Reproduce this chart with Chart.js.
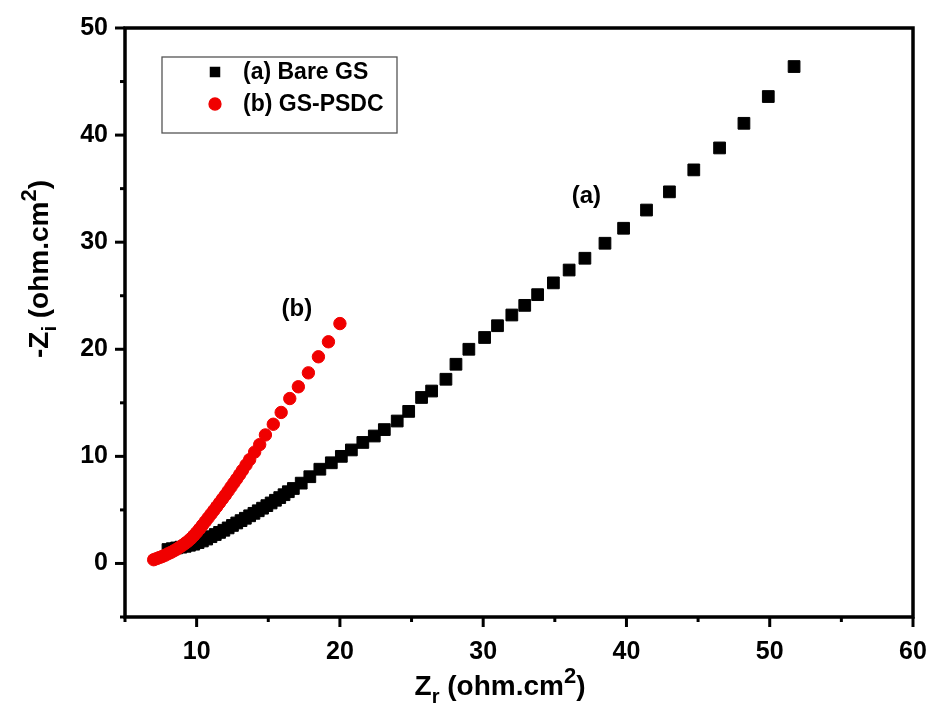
<!DOCTYPE html>
<html>
<head>
<meta charset="utf-8">
<script src="https://cdn.jsdelivr.net/npm/chart.js@4.4.1/dist/chart.umd.min.js"></script>
<style>
    html, body { margin: 0; padding: 0; background: #fff; }
    #wrap { width: 932px; height: 709px; position: relative; }
</style>
</head>
<body>
<div id="wrap"><canvas id="chart"></canvas></div>
<script>
// (a) Bare GS
const bareZr = [8.0, 8.3, 8.6, 8.9, 9.2, 9.5, 9.8, 10.1, 10.4, 10.7, 11.0, 11.3, 11.6, 11.9, 12.2, 12.5, 12.8, 13.1, 13.4, 13.7,
    14.0, 14.3, 14.6, 14.9, 15.2, 15.5, 15.8, 16.1, 16.4, 16.75, 17.3, 17.9, 18.6, 19.4, 20.1, 20.8, 21.6, 22.4, 23.1, 24.0,
    24.8, 25.7, 26.4, 27.4, 28.1, 29.0, 30.1, 31.0, 32.0, 32.9, 33.8, 34.9, 36.0, 37.1, 38.5, 39.8, 41.4, 43.0, 44.7, 46.5,
    48.2, 49.9, 51.7];
const bareZi = [1.3, 1.38, 1.45, 1.52, 1.6, 1.7, 1.8, 1.95, 2.1, 2.28, 2.5, 2.7, 2.9, 3.1, 3.32, 3.55, 3.78, 4.0, 4.22, 4.45,
    4.68, 4.92, 5.16, 5.4, 5.65, 5.9, 6.15, 6.42, 6.7, 7.0, 7.5, 8.1, 8.8, 9.4, 10.0, 10.6, 11.3, 11.9, 12.5, 13.3,
    14.2, 15.5, 16.1, 17.2, 18.6, 20.0, 21.1, 22.2, 23.2, 24.1, 25.1, 26.2, 27.4, 28.5, 29.9, 31.3, 33.0, 34.7, 36.75, 38.8,
    41.1, 43.6, 46.4];

// (b) GS-PSDC
const psdcZr = [7.0, 7.2, 7.4, 7.6, 7.8, 8.0, 8.2, 8.4, 8.6, 8.8, 9.0, 9.2, 9.4, 9.6, 9.8, 10.0, 10.2, 10.4, 10.6, 10.8,
    11.0, 11.2, 11.4, 11.6, 11.8, 12.0, 12.2, 12.4, 12.6, 12.8, 13.0, 13.2, 13.45, 13.7, 14.05, 14.4, 14.8, 15.35, 15.9, 16.5,
    17.1, 17.8, 18.5, 19.2, 20.0];
const psdcZi = [0.35, 0.45, 0.55, 0.65, 0.77, 0.9, 1.03, 1.17, 1.32, 1.5, 1.68, 1.88, 2.08, 2.32, 2.6, 2.9, 3.22, 3.56, 3.9, 4.25,
    4.6, 4.95, 5.3, 5.66, 6.02, 6.38, 6.76, 7.14, 7.52, 7.9, 8.3, 8.7, 9.2, 9.7, 10.4, 11.1, 12.0, 13.0, 14.1, 15.4,
    16.5, 17.8, 19.3, 20.7, 22.4];

const seriesNames = ['(a) Bare GS', '(b) GS-PSDC'];
const curveTags = ['(a)', '(b)'];
const tagX = [37.2, 17.0];
const tagY = [34.3, 23.7];
const xTickLabels = [10, 20, 30, 40, 50, 60];
const yTickLabels = [0, 10, 20, 30, 40, 50];

const FONT = "'Liberation Sans', Arial, sans-serif";

const toPoints = (xs, ys) => xs.map((v, i) => ({ x: v, y: ys[i] }));

// draws a string made of pieces with their own size / baseline shift (sub & superscripts)
function drawRich(ctx, parts, cx, baseline) {
    let total = 0;
    parts.forEach(p => {
        ctx.font = `bold ${p.size}px ${FONT}`;
        p.w = ctx.measureText(p.t).width;
        total += p.w;
    });
    let x = cx - total / 2;
    ctx.textAlign = 'left';
    ctx.textBaseline = 'alphabetic';
    parts.forEach(p => {
        ctx.font = `bold ${p.size}px ${FONT}`;
        ctx.fillText(p.t, x, baseline + (p.dy || 0));
        x += p.w;
    });
}

const decorPlugin = {
    id: 'decor',
    afterDatasetsDraw(chart) {
        const { ctx, scales: { x, y } } = chart;
        ctx.save();
        ctx.fillStyle = '#000';
        ctx.font = `bold 24px ${FONT}`;
        ctx.textAlign = 'center';
        ctx.textBaseline = 'middle';
        curveTags.forEach((t, i) => {
            ctx.fillText(t, x.getPixelForValue(tagX[i]), y.getPixelForValue(tagY[i]));
        });
        ctx.restore();
    },
    afterDraw(chart) {
        const { ctx, chartArea: a, scales: { x, y } } = chart;
        ctx.save();

        // frame
        ctx.strokeStyle = '#000';
        ctx.lineWidth = 3.5;
        ctx.strokeRect(a.left, a.top, a.width, a.height);

        // outward ticks, long on labelled values
        ctx.lineWidth = 3;
        x.ticks.forEach(t => {
            const px = x.getPixelForValue(t.value);
            const len = xTickLabels.includes(t.value) ? 10 : 5;
            ctx.beginPath();
            ctx.moveTo(px, a.bottom);
            ctx.lineTo(px, a.bottom + len);
            ctx.stroke();
        });
        y.ticks.forEach(t => {
            const py = y.getPixelForValue(t.value);
            const len = yTickLabels.includes(t.value) ? 10 : 5;
            ctx.beginPath();
            ctx.moveTo(a.left, py);
            ctx.lineTo(a.left - len, py);
            ctx.stroke();
        });

        // axis titles
        ctx.fillStyle = '#000';
        drawRich(ctx, [
            { t: 'Z', size: 28 },
            { t: 'r', size: 20, dy: 8 },
            { t: ' (ohm.cm', size: 28 },
            { t: '2', size: 22, dy: -12 },
            { t: ')', size: 28 }
        ], (a.left + a.right) / 2 - 19, 695);

        ctx.save();
        ctx.translate(48, 269);
        ctx.rotate(-Math.PI / 2);
        drawRich(ctx, [
            { t: '-Z', size: 28 },
            { t: 'i', size: 20, dy: 8 },
            { t: ' (ohm.cm', size: 28 },
            { t: '2', size: 22, dy: -12 },
            { t: ')', size: 28 }
        ], 0, 0);
        ctx.restore();

        // legend box
        const lx = a.left + 37, ly = a.top + 29;
        ctx.lineWidth = 1.3;
        ctx.strokeStyle = '#555';
        ctx.strokeRect(lx, ly, 235, 76);
        chart.data.datasets.forEach((ds, i) => {
            const my = ly + 15 + i * 32;
            ctx.fillStyle = ds.backgroundColor;
            ctx.strokeStyle = ds.borderColor;
            Chart.helpers.drawPoint(ctx, {
                pointStyle: ds.pointStyle,
                radius: ds.pointStyle === 'rect' ? 6.5 : 6,
                borderWidth: 1,
                rotation: 0
            }, lx + 53, my);
            ctx.fillStyle = '#000';
            ctx.font = `bold 23px ${FONT}`;
            ctx.textAlign = 'left';
            ctx.textBaseline = 'middle';
            ctx.fillText(seriesNames[i], lx + 81, my + 1);
        });

        ctx.restore();
    }
};

new Chart(document.getElementById('chart'), {
    type: 'scatter',
    data: {
        datasets: [
            {
                label: seriesNames[0],
                data: toPoints(bareZr, bareZi),
                pointStyle: 'rect',
                pointRadius: 8.3,
                pointBorderWidth: 1,
                backgroundColor: '#000',
                borderColor: '#000',
                order: 2
            },
            {
                label: seriesNames[1],
                data: toPoints(psdcZr, psdcZi),
                pointStyle: 'circle',
                pointRadius: 6.2,
                pointBorderWidth: 1,
                backgroundColor: '#f00000',
                borderColor: '#f00000',
                order: 1
            }
        ]
    },
    options: {
        responsive: true,
        maintainAspectRatio: false,
        animation: false,
        layout: { padding: { top: 28, right: 19, left: 0, bottom: 0 } },
        plugins: {
            legend: { display: false },
            tooltip: { enabled: false }
        },
        scales: {
            x: {
                type: 'linear',
                min: 5,
                max: 60,
                afterFit: (s) => {
                    s.height = 92;
                    s.paddingLeft = 0;
                    s.paddingRight = 0;
                },
                grid: { display: false, drawTicks: false },
                border: { display: false },
                ticks: {
                    stepSize: 5,
                    padding: 20,
                    color: '#000',
                    font: { family: FONT, size: 25, weight: 'bold' },
                    maxRotation: 0,
                    autoSkip: false,
                    callback: (v) => xTickLabels.includes(v) ? String(v) : ''
                }
            },
            y: {
                type: 'linear',
                min: -5,
                max: 50,
                afterFit: (s) => {
                    s.width = 125;
                    s.paddingTop = 0;
                    s.paddingBottom = 0;
                },
                grid: { display: false, drawTicks: false },
                border: { display: false },
                ticks: {
                    stepSize: 5,
                    padding: 17,
                    color: '#000',
                    font: { family: FONT, size: 25, weight: 'bold' },
                    autoSkip: false,
                    callback: (v) => yTickLabels.includes(v) ? String(v) : ''
                }
            }
        }
    },
    plugins: [decorPlugin]
});
</script>
</body>
</html>
